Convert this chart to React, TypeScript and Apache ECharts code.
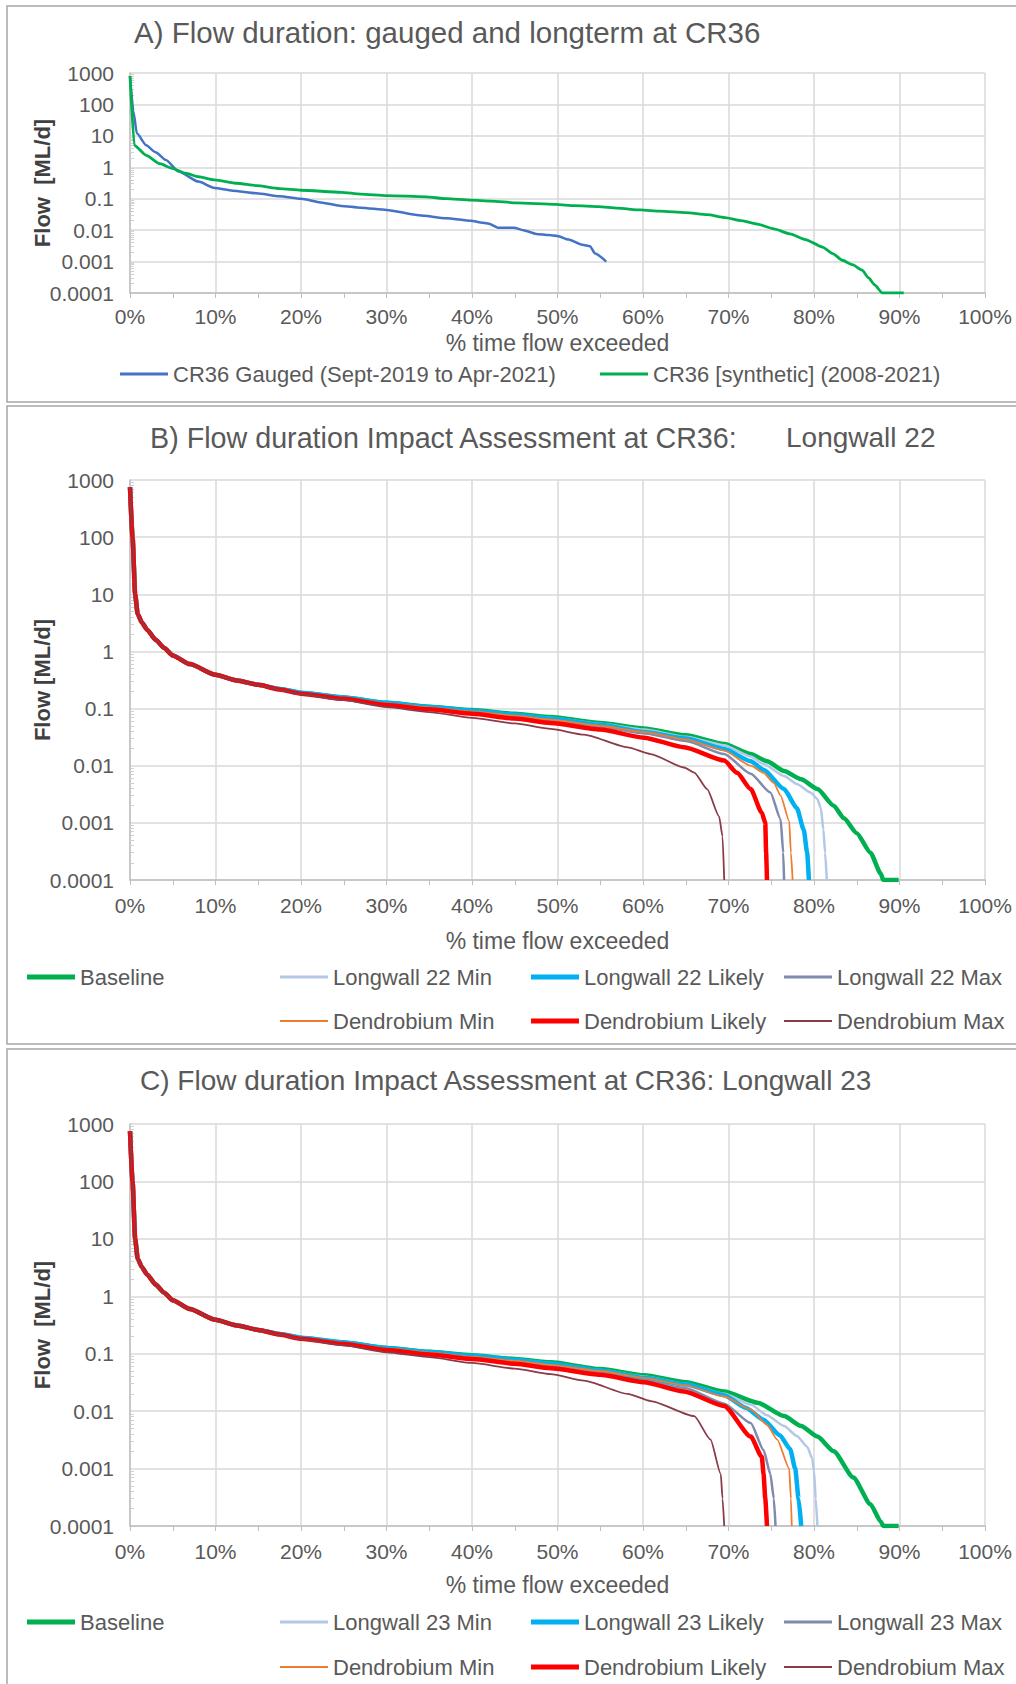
import { useEffect, useRef } from "react";
import * as echarts from "echarts";

const FONT = "'Liberation Sans', Arial, sans-serif";
const TEXT = "#595959";
const GRID = "#d9d9d9";
const AXIS = "#bfbfbf";

// ---- Panel A: gauged record and long-term synthetic series, [% exceeded, ML/d]
const gaugedCR36: [number, number][] = [
  [0, 800], [0.4, 60], [0.8, 12], [1.9, 5], [3, 3], [4.2, 1.7], [5.7, 0.73], [8, 0.35],
  [9.9, 0.22], [12, 0.18], [14.8, 0.15], [17.5, 0.12], [20, 0.1], [22.5, 0.075], [24.7, 0.059],
  [27, 0.052], [30, 0.044], [33.8, 0.03], [37, 0.024], [39.9, 0.02], [41, 0.0176], [42, 0.016],
  [43, 0.012], [44.9, 0.012], [46, 0.01], [47.5, 0.0076], [49, 0.007], [50, 0.0065],
  [51.3, 0.005], [52.9, 0.0034], [53.8, 0.0031], [54.4, 0.0018], [55.7, 0.001],
];
const syntheticCR36: [number, number][] = [
  [0, 800], [0.5, 5], [1.9, 2.4], [3.5, 1.3], [4.9, 0.93], [6.5, 0.65], [8, 0.5], [9.9, 0.4],
  [12.5, 0.31], [14.8, 0.26], [17.5, 0.21], [20, 0.186], [24.7, 0.16], [27, 0.14], [30, 0.126],
  [34.6, 0.115], [37, 0.1], [39.9, 0.09], [42.2, 0.084], [45.2, 0.074], [49.8, 0.066], [52, 0.06],
  [54.8, 0.056], [57, 0.05], [59.7, 0.044], [62, 0.04], [65, 0.036], [67.5, 0.031], [69.6, 0.025],
  [71.5, 0.02], [73.4, 0.0155], [75.3, 0.011], [77.2, 0.0076], [79, 0.005], [81, 0.0029],
  [82.2, 0.0018], [83.3, 0.0011], [84.5, 0.0008], [85.6, 0.00054], [86.4, 0.0003], [87.1, 0.00018],
  [88, 0.0001], [90.5, 0.0001],
];

// ---- Panels B and C: modelled scenarios
// high-flow end, identical for every scenario
const modelledHead: [number, number][] = [
  [0, 750], [0.3, 100], [0.6, 10], [0.9, 4.5], [1.4, 3.2], [2, 2.4], [3, 1.6], [4, 1.15],
  [5, 0.85], [7, 0.6], [10, 0.39], [12.5, 0.31], [15, 0.26],
];
// mid range (17.5 – 49 %)
const baselineMid: [number, number][] = [[17.5, 0.22], [20, 0.188], [25, 0.157], [30, 0.126], [35, 0.108], [40, 0.094], [45, 0.081], [49.2, 0.071]];
const lwMinMid: [number, number][] = [[17.5, 0.22], [20, 0.187], [25, 0.156], [30, 0.125], [35, 0.107], [40, 0.092], [45, 0.079], [49.2, 0.069]];
const lwLikelyMid: [number, number][] = [[17.5, 0.221], [20, 0.19], [25, 0.157], [30, 0.126], [35, 0.107], [40, 0.092], [45, 0.078], [49.2, 0.067]];
const lwMaxMid: [number, number][] = [[17.5, 0.218], [20, 0.185], [25, 0.152], [30, 0.121], [35, 0.103], [40, 0.087], [45, 0.073], [49.2, 0.062]];
const dMinMid: [number, number][] = [[17.5, 0.219], [20, 0.186], [25, 0.153], [30, 0.122], [35, 0.104], [40, 0.088], [45, 0.075], [49.2, 0.064]];
const dLikelyMid: [number, number][] = [[17.5, 0.215], [20, 0.182], [25, 0.148], [30, 0.116], [35, 0.097], [40, 0.081], [45, 0.067], [49.2, 0.056]];
const dMaxMid: [number, number][] = [[17.5, 0.212], [20, 0.178], [25, 0.14], [30, 0.106], [35, 0.087], [40, 0.069], [45, 0.055], [49.2, 0.044]];

// low-flow end, Longwall 22 assessment
const baselineTailB: [number, number][] = [[55, 0.056], [60.1, 0.045], [65, 0.034], [69.5, 0.024], [72.6, 0.016], [74.5, 0.012], [76.5, 0.0081], [78.5, 0.0058], [80.4, 0.0039], [82.3, 0.002], [83.5, 0.0012], [85, 0.00066], [86.6, 0.0003], [87.8, 0.00013], [88.1, 0.0001], [89.9, 0.0001]];
const lw22MinTail: [number, number][] = [[55, 0.054], [60.1, 0.043], [65, 0.032], [69.5, 0.0228], [72.6, 0.0145], [74.1, 0.0107], [76.5, 0.0066], [78, 0.0048], [79.6, 0.0034], [80.4, 0.0026], [80.8, 0.0018], [81.1, 0.00076], [81.3, 0.0003], [81.5, 0.0001]];
const lw22LikelyTail: [number, number][] = [[55, 0.052], [60.1, 0.039], [65, 0.03], [69.5, 0.0196], [72.6, 0.012], [74.1, 0.0085], [76.5, 0.0039], [78, 0.0018], [78.8, 0.00076], [79.2, 0.0003], [79.4, 0.0001]];
const lw22MaxTail: [number, number][] = [[55, 0.048], [60.1, 0.037], [65, 0.027], [69.5, 0.016], [72.6, 0.0072], [74.9, 0.0034], [76.1, 0.00115], [76.4, 0.0003], [76.5, 0.0001]];
const dMinTailB: [number, number][] = [[55, 0.05], [60.1, 0.039], [65, 0.029], [69.5, 0.0184], [72.6, 0.01], [74.1, 0.0075], [75.3, 0.005], [76.1, 0.003], [77.1, 0.00107], [77.3, 0.0003], [77.5, 0.0001]];
const dLikelyTailB: [number, number][] = [[55, 0.043], [60.1, 0.031], [64.8, 0.021], [69.5, 0.0123], [71, 0.0075], [72.6, 0.0039], [73.9, 0.0015], [74.3, 0.001], [74.4, 0.0003], [74.5, 0.0001]];
const dMaxTailB: [number, number][] = [[53.1, 0.035], [58.2, 0.021], [60.9, 0.016], [64.8, 0.0093], [66, 0.0076], [67.5, 0.0039], [68.9, 0.0013], [69.3, 0.00058], [69.5, 0.0001]];

// low-flow end, Longwall 23 assessment
const baselineTailC: [number, number][] = [[55, 0.054], [60.1, 0.042], [65, 0.032], [69.5, 0.022], [73.4, 0.014], [76.5, 0.0082], [78.5, 0.0055], [80.4, 0.0036], [82.3, 0.002], [84.6, 0.0007], [86.6, 0.00024], [87.8, 0.00012], [88.1, 0.0001], [89.9, 0.0001]];
const lw23MinTail: [number, number][] = [[55, 0.052], [60.1, 0.04], [65, 0.03], [69.5, 0.02], [72.6, 0.013], [74.5, 0.0085], [76.5, 0.0055], [78, 0.0037], [79.2, 0.0024], [79.8, 0.0015], [80, 0.0009], [80.2, 0.0003], [80.4, 0.0001]];
const lw23LikelyTail: [number, number][] = [[55, 0.051], [60.1, 0.038], [65, 0.029], [69.5, 0.019], [72, 0.0115], [74.1, 0.0071], [76, 0.0038], [77.2, 0.0022], [77.8, 0.001], [78.2, 0.0003], [78.5, 0.0001]];
const lw23MaxTail: [number, number][] = [[55, 0.046], [60.1, 0.034], [65, 0.025], [69.5, 0.0135], [72.6, 0.0062], [74.1, 0.0021], [74.9, 0.0008], [75.3, 0.0003], [75.5, 0.0001]];
const dMinTailC: [number, number][] = [[55, 0.05], [60.1, 0.038], [65, 0.028], [69.5, 0.018], [72.6, 0.0107], [74.5, 0.0058], [75.7, 0.0032], [77.1, 0.001], [77.3, 0.0003], [77.4, 0.0001]];
const dLikelyTailC: [number, number][] = [[55, 0.043], [60.1, 0.032], [64.8, 0.022], [69.5, 0.0123], [72.6, 0.0036], [73.9, 0.0016], [74.1, 0.0008], [74.3, 0.0003], [74.5, 0.0001]];
const dMaxTailC: [number, number][] = [[53.1, 0.034], [58.2, 0.02], [60.9, 0.015], [66, 0.0082], [67.9, 0.0032], [69.1, 0.0008], [69.3, 0.0003], [69.5, 0.0001]];

const namesB = ["Baseline", "Longwall 22 Min", "Longwall 22 Likely", "Longwall 22 Max", "Dendrobium Min", "Dendrobium Likely", "Dendrobium Max"];
const namesC = ["Baseline", "Longwall 23 Min", "Longwall 23 Likely", "Longwall 23 Max", "Dendrobium Min", "Dendrobium Likely", "Dendrobium Max"];

const midsBC = [baselineMid, lwMinMid, lwLikelyMid, lwMaxMid, dMinMid, dLikelyMid, dMaxMid];
const tailsB = [baselineTailB, lw22MinTail, lw22LikelyTail, lw22MaxTail, dMinTailB, dLikelyTailB, dMaxTailB];
const tailsC = [baselineTailC, lw23MinTail, lw23LikelyTail, lw23MaxTail, dMinTailC, dLikelyTailC, dMaxTailC];

// line colour, plot width, legend swatch height, legend column/row
const scenarioStyle = [
  { color: "#00b050", width: 4.5, swatch: 5, col: 0, row: 0 },
  { color: "#b4c7e7", width: 2.5, swatch: 3, col: 1, row: 0 },
  { color: "#00b0f0", width: 4.5, swatch: 5, col: 2, row: 0 },
  { color: "#7f8aae", width: 2.5, swatch: 3, col: 3, row: 0 },
  { color: "#ed7d31", width: 1.8, swatch: 2, col: 1, row: 1 },
  { color: "#ff0000", width: 4.5, swatch: 5, col: 2, row: 1 },
  { color: "#8b3a4a", width: 1.8, swatch: 2, col: 3, row: 1 },
];
const legendCols = [27, 280, 531, 784];

const logLabel = (v: number) => {
  const e = Math.round(Math.log10(v));
  return e >= 0 ? String(Math.pow(10, e)) : Math.pow(10, e).toFixed(-e);
};

function xAxis(gridIndex: number, nameGap: number, labelMargin: number) {
  return {
    type: "value", gridIndex, min: 0, max: 100, interval: 10,
    name: "% time flow exceeded", nameLocation: "middle", nameGap, nameMoveOverlap: false,
    nameTextStyle: { fontSize: 23, color: TEXT, fontFamily: FONT },
    axisLine: { show: true, lineStyle: { color: AXIS, width: 1.5 } },
    axisTick: { show: true, length: 5, lineStyle: { color: AXIS } },
    minorTick: { show: true, splitNumber: 2, length: 5, lineStyle: { color: AXIS } },
    axisLabel: { formatter: "{value}%", fontSize: 21, color: TEXT, fontFamily: FONT, margin: labelMargin },
    splitLine: { show: true, lineStyle: { color: GRID, width: 1.5 } },
  };
}

function yAxis(gridIndex: number, name: string) {
  return {
    type: "log", gridIndex, logBase: 10, min: 0.0001, max: 1000, splitNumber: 7,
    name, nameLocation: "middle", nameGap: 77, nameMoveOverlap: false,
    nameTextStyle: { fontSize: 22, fontWeight: "bold", color: "#404040", fontFamily: FONT },
    axisLine: { show: true, lineStyle: { color: AXIS, width: 1.5 } },
    axisTick: { show: false, inside: true },
    minorTick: { show: true, splitNumber: 9, length: 4, lineStyle: { color: "#d0d0d0" } },
    axisLabel: { formatter: logLabel, fontSize: 21, color: TEXT, fontFamily: FONT, margin: 16 },
    splitLine: { show: true, lineStyle: { color: GRID, width: 1.5 } },
  };
}

function lineSeries(name: string, data: [number, number][], idx: number, color: string, width: number) {
  return {
    type: "line", name, data, xAxisIndex: idx, yAxisIndex: idx,
    symbol: "none", showSymbol: false, smooth: 0.2, smoothMonotone: "x",
    lineStyle: { color, width }, itemStyle: { color },
  };
}

function legendItem(name: string, left: number, top: number, swatch: number) {
  return {
    left, top, padding: 0, itemWidth: 48, itemHeight: swatch, itemGap: 0,
    icon: "rect", selectedMode: false,
    textStyle: { fontSize: 22, color: TEXT, fontFamily: FONT },
    data: [name],
  };
}

export default function App() {
  const ref = useRef<HTMLDivElement>(null);

  useEffect(() => {
    document.body.style.margin = "0";
    if (!ref.current) return;
    const chart = echarts.init(ref.current, null, { renderer: "svg" });

    const series: any[] = [
      lineSeries("CR36 Gauged (Sept-2019 to Apr-2021)", gaugedCR36, 0, "#4472c4", 2.5),
      lineSeries("CR36 [synthetic] (2008-2021)", syntheticCR36, 0, "#00b050", 2.8),
    ];
    const legends: any[] = [
      legendItem("CR36 Gauged (Sept-2019 to Apr-2021)", 120, 363, 3),
      legendItem("CR36 [synthetic] (2008-2021)", 600, 363, 3),
    ];
    const rowsB = [966, 1010];
    const rowsC = [1611, 1656];
    scenarioStyle.forEach((s, i) => {
      series.push(lineSeries(namesB[i], [...modelledHead, ...midsBC[i], ...tailsB[i]], 1, s.color, s.width));
      legends.push(legendItem(namesB[i], legendCols[s.col], rowsB[s.row], s.swatch));
    });
    scenarioStyle.forEach((s, i) => {
      series.push(lineSeries(namesC[i], [...modelledHead, ...midsBC[i], ...tailsC[i]], 2, s.color, s.width));
      legends.push(legendItem(namesC[i], legendCols[s.col], rowsC[s.row], s.swatch));
    });

    const titleStyle = (fontSize: number) => ({ fontSize, fontWeight: "normal", color: TEXT, fontFamily: FONT });
    const frame = { stroke: "#a6a6a6", lineWidth: 1.5, fill: "none" };

    chart.setOption({
      animation: false,
      backgroundColor: "#ffffff",
      title: [
        { text: "A) Flow duration: gauged and longterm at CR36", left: 134, top: 17, padding: 0, textStyle: titleStyle(29.5) },
        { text: "B) Flow duration Impact Assessment at CR36:", left: 150, top: 423, padding: 0, textStyle: titleStyle(28.7) },
        { text: "Longwall 22", left: 786, top: 423, padding: 0, textStyle: titleStyle(28) },
        { text: "C) Flow duration Impact Assessment at CR36: Longwall 23", left: 140, top: 1066, padding: 0, textStyle: titleStyle(28) },
      ],
      grid: [
        { left: 130, right: 31, top: 73, height: 220 },
        { left: 130, right: 31, top: 480, height: 400 },
        { left: 130, right: 31, top: 1124, height: 402 },
      ],
      xAxis: [xAxis(0, 38, 13), xAxis(1, 49, 15), xAxis(2, 47, 15)],
      yAxis: [yAxis(0, "Flow  [ML/d]"), yAxis(1, "Flow [ML/d]"), yAxis(2, "Flow  [ML/d]")],
      legend: legends,
      series,
      graphic: [
        { type: "rect", shape: { x: 7, y: 6, width: 1020, height: 396 }, style: frame, silent: true },
        { type: "rect", shape: { x: 7, y: 406, width: 1020, height: 638 }, style: frame, silent: true },
        { type: "rect", shape: { x: 7, y: 1049, width: 1020, height: 650 }, style: frame, silent: true },
      ],
    });

    return () => chart.dispose();
  }, []);

  return <div ref={ref} style={{ width: 1016, height: 1684 }} />;
}
